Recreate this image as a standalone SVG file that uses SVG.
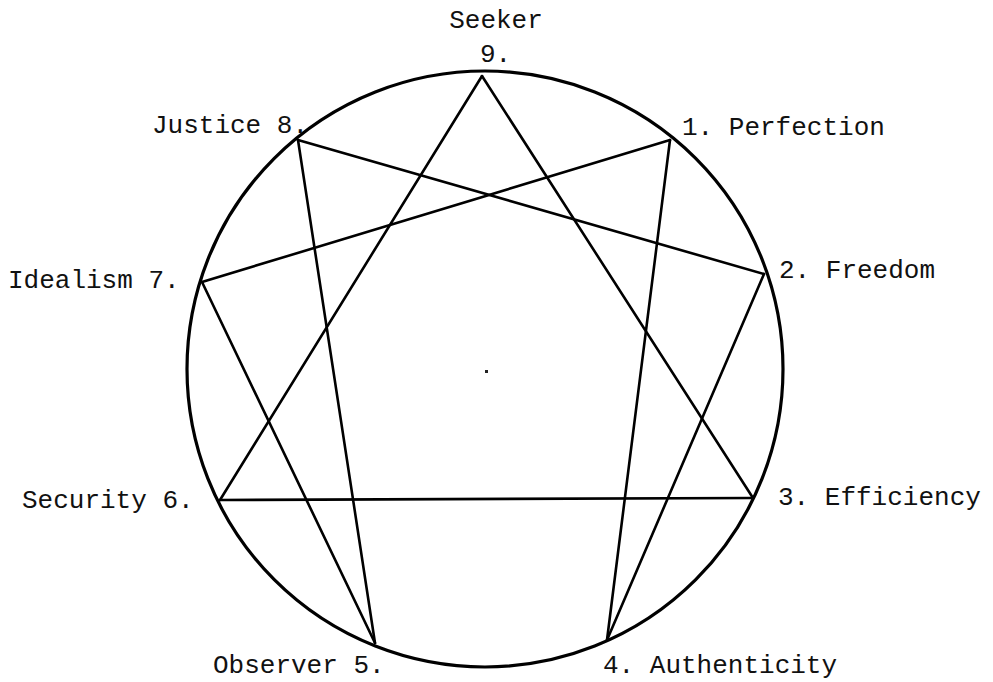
<svg xmlns="http://www.w3.org/2000/svg" width="993" height="682" viewBox="0 0 993 682">
<style>
.lbl{font-family:"Liberation Mono","Courier New",monospace;font-size:26px;fill:#111;}
.edge{stroke:#000;stroke-width:2.6;fill:none;stroke-linecap:round;}
.ring{stroke:#000;stroke-width:3.2;fill:none;}
</style>
<rect width="993" height="682" fill="#fff"/>
<g id="ring">
<circle class="ring" cx="485" cy="369" r="298"/>
<rect x="485" y="370" width="3" height="3" fill="#222"/>
</g>
<g id="connectors">
<line class="edge" x1="482" y1="76" x2="753" y2="498"/>
<line class="edge" x1="482" y1="76" x2="220" y2="500"/>
<line class="edge" x1="220" y1="500" x2="753" y2="498"/>
<line class="edge" x1="670" y1="140" x2="607" y2="640"/>
<line class="edge" x1="607" y1="640" x2="764" y2="274"/>
<line class="edge" x1="764" y1="274" x2="298" y2="140"/>
<line class="edge" x1="298" y1="140" x2="375" y2="643"/>
<line class="edge" x1="375" y1="643" x2="202" y2="282"/>
<line class="edge" x1="202" y1="282" x2="670" y2="140"/>
</g>
<g id="n9"><text class="lbl" x="496" y="28" text-anchor="middle">Seeker</text><text class="lbl" x="480" y="62">9.</text></g>
<g id="n1"><text class="lbl" x="682" y="135">1. Perfection</text></g>
<g id="n2"><text class="lbl" x="779" y="278">2. Freedom</text></g>
<g id="n3"><text class="lbl" x="778" y="505">3. Efficiency</text></g>
<g id="n4"><text class="lbl" x="603" y="673">4. Authenticity</text></g>
<g id="n5"><text class="lbl" x="213" y="673">Observer 5.</text></g>
<g id="n6"><text class="lbl" x="22" y="508">Security 6.</text></g>
<g id="n7"><text class="lbl" x="8" y="288">Idealism 7.</text></g>
<g id="n8"><text class="lbl" x="152" y="133">Justice 8.</text></g>
</svg>
